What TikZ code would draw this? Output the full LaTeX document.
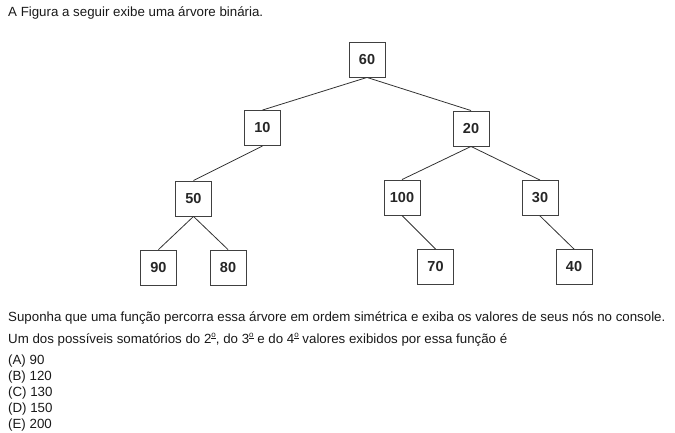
\documentclass[tikz,border=0pt]{standalone}
\usepackage{fontspec}
\setmainfont{Liberation Sans}
\newcommand\myord{\raisebox{0.75ex}{\fontsize{8}{8}\selectfont\setbox0\hbox{o}\rlap{\rule[-0.6pt]{\wd0}{0.5pt}}o}}
\begin{document}
\begin{tikzpicture}[x=1pt,y=-1pt,
  tbox/.style={draw=black!75,line width=0.9pt,minimum width=36pt,minimum height=35pt,inner sep=0pt,
    font=\fontsize{14.5}{16}\selectfont\bfseries,text=black!85},
  edge/.style={draw=black!80,line width=0.8pt},
  txt/.style={anchor=base west,inner sep=0pt,font=\fontsize{13.3}{15}\selectfont,text=black!90}]
\useasboundingbox (0,0) rectangle (675,433);
\node[txt] (title) at (8,17) {A Figura a seguir exibe uma árvore binária.};
\node[tbox] (n60) at (367,59.5) {60};
\node[tbox] (n10) at (262.5,128) {10};
\node[tbox] (n20) at (471,128.5) {20};
\node[tbox] (n50) at (193.5,198.5) {50};
\node[tbox] (n100) at (402,197.5) {100};
\node[tbox] (n30) at (540,198) {30};
\node[tbox] (n90) at (158.5,267.5) {90};
\node[tbox] (n80) at (228,267.5) {80};
\node[tbox] (n70) at (435.5,267) {70};
\node[tbox] (n40) at (574,267) {40};
\draw[edge] (n60.south) -- (n10.north);
\draw[edge] (n60.south) -- (n20.north);
\draw[edge] (n10.south) -- (n50.north);
\draw[edge] (n20.south) -- (n100.north);
\draw[edge] (n20.south) -- (n30.north);
\draw[edge] (n50.south) -- (n90.north);
\draw[edge] (n50.south) -- (n80.north);
\draw[edge] (n100.south) -- (n70.north);
\draw[edge] (n30.south) -- (n40.north);
\node[txt] (q1) at (8,321) {Suponha que uma função percorra essa árvore em ordem simétrica e exiba os valores de seus nós no console.};
\node[txt] (q2) at (8,343) {Um dos possíveis somatórios do 2\myord, do 3\myord{} e do 4\myord{} valores exibidos por essa função é};
\node[txt] (a) at (8,364) {(A) 90};
\node[txt] (b) at (8,380) {(B) 120};
\node[txt] (c) at (8,396) {(C) 130};
\node[txt] (d) at (8,412) {(D) 150};
\node[txt] (e) at (8,428) {(E) 200};
\end{tikzpicture}
\end{document}
